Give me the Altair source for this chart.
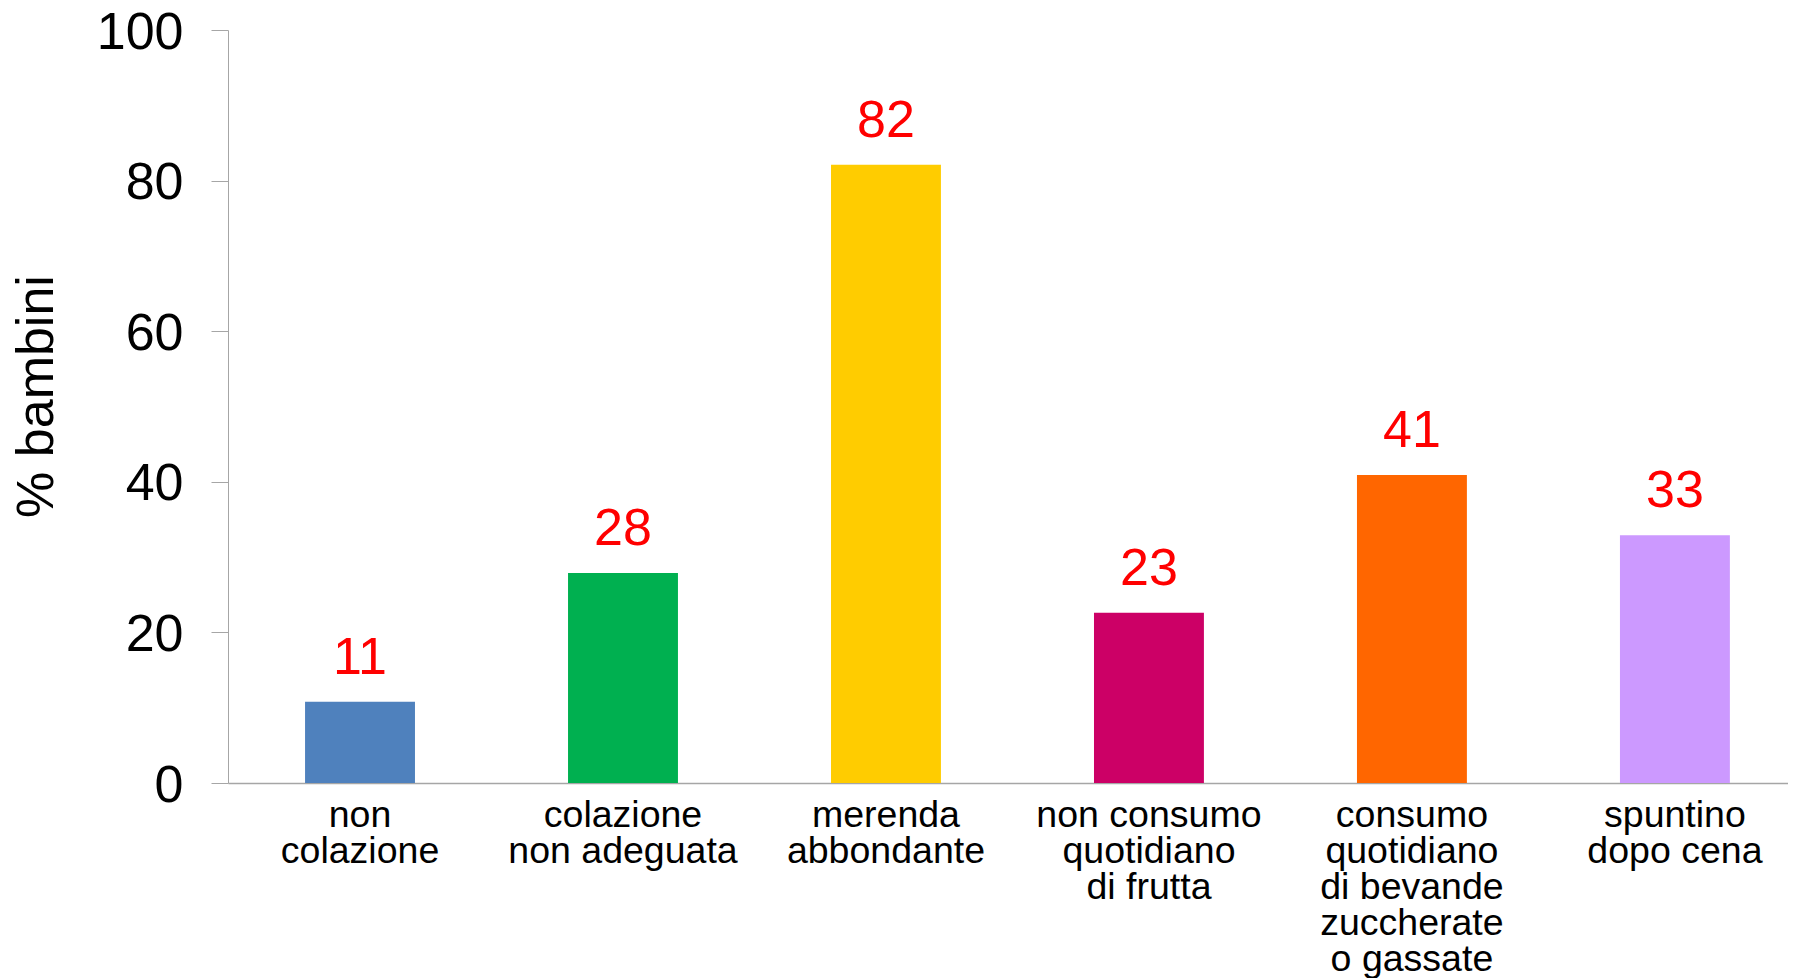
import altair as alt
import pandas as pd

categories = [
    "non\ncolazione",
    "colazione\nnon adeguata",
    "merenda\nabbondante",
    "non consumo\nquotidiano\ndi frutta",
    "consumo\nquotidiano\ndi bevande\nzuccherate\no gassate",
    "spuntino\ndopo cena",
]
values = [10.8, 27.9, 82.1, 22.6, 40.9, 32.9]
labels = ["11", "28", "82", "23", "41", "33"]
colors = ["#4F81BD", "#00B050", "#FFCC00", "#CC0066", "#FF6600", "#CC99FF"]
y_ticks = [0, 20, 40, 60, 80, 100]

df = pd.DataFrame({"cat": categories, "val": values, "lab": labels, "col": colors})

FONT = "Liberation Sans"

x_enc = alt.X(
    "cat:N",
    sort=categories,
    scale=alt.Scale(paddingInner=0.582, paddingOuter=0.257, align=0.57),
    axis=alt.Axis(
        title=None,
        labelAngle=0,
        labelExpr="split(datum.label, '\\n')",
        labelFont=FONT,
        labelFontSize=37.5,
        labelLineHeight=36,
        labelColor="black",
        labelPadding=13,
        ticks=False,
        domainColor="#A6A6A6",
        domainWidth=1.5,
        labelLimit=400,
    ),
)
y_enc = alt.Y(
    "val:Q",
    scale=alt.Scale(domain=[0, 100], nice=False),
    axis=alt.Axis(
        title="% bambini",
        values=y_ticks,
        grid=False,
        labelFont=FONT,
        labelFontSize=52,
        labelColor="black",
        labelPadding=28,
        labelOffset=2,
        tickSize=17,
        tickColor="#A6A6A6",
        domainColor="#A6A6A6",
        titleFont=FONT,
        titleFontSize=52,
        titleFontWeight="normal",
        titleColor="black",
        titlePadding=33,
        titleY=366,
    ),
)

bars = alt.Chart(df).mark_bar().encode(
    x=x_enc,
    y=y_enc,
    color=alt.Color("col:N", scale=None),
)

text = alt.Chart(df).mark_text(
    font=FONT, fontSize=52, color="#FF0000", baseline="alphabetic", dy=-28
).encode(
    x=alt.X("cat:N", sort=categories),
    y=alt.Y("val:Q"),
    text="lab:N",
)

chart = (
    alt.layer(bars, text)
    .properties(
        width=1560,
        height=753,
        autosize=alt.AutoSizeParams(type="none"),
        padding={"left": 220, "top": 22, "right": 0, "bottom": 200},
        background="white",
    )
    .configure_view(stroke=None)
)

chart.save("out.html", embed_options={"renderer": "svg", "actions": False})
